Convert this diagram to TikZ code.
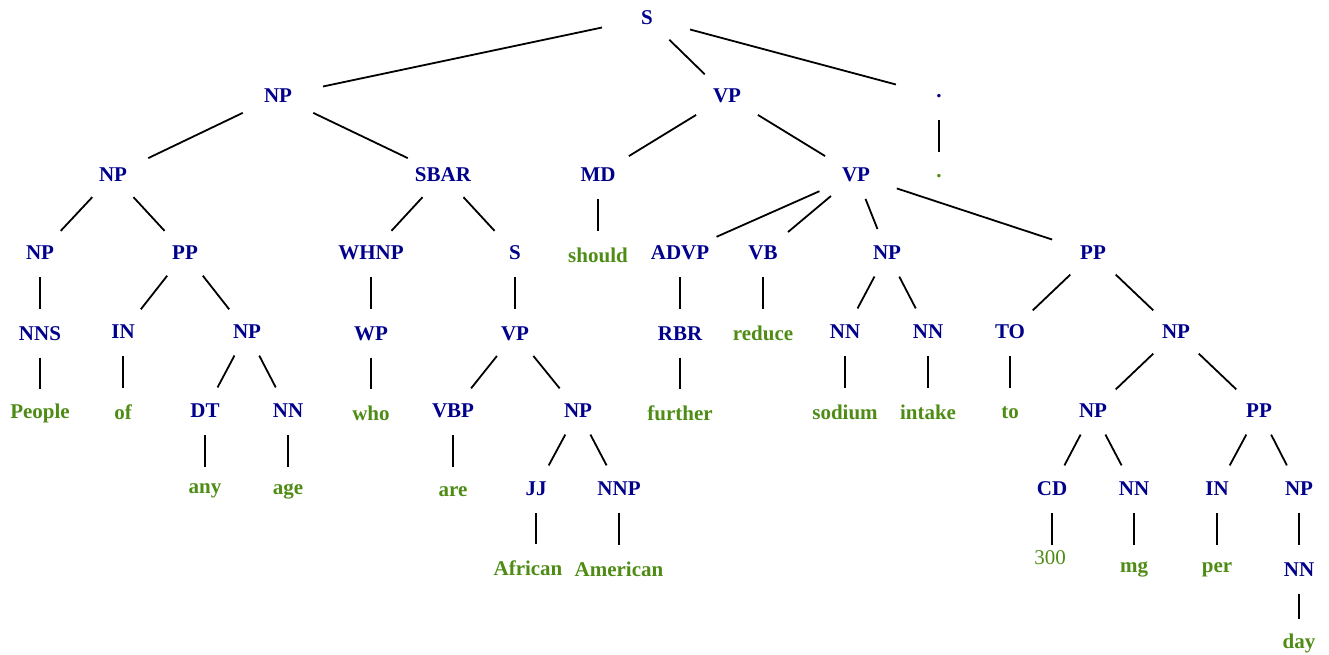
\documentclass[tikz,border=0pt]{standalone}
\usepackage{fontspec}
\setmainfont{Liberation Serif}
\usetikzlibrary{positioning,shapes.geometric}
\definecolor{catblue}{RGB}{0,0,139}
\definecolor{wordgreen}{RGB}{78,140,22}
\tikzset{
  lbl/.style={ellipse, inner sep=0pt, minimum width=96pt, minimum height=47pt,
    font=\fontsize{21}{25}\selectfont\bfseries,
    execute at begin node={\hbox to 0pt\bgroup\hss},
    execute at end node={\hss\egroup}},
  cat/.style={lbl, text=catblue},
  word/.style={lbl, text=wordgreen}
}

\begin{document}
\begin{tikzpicture}[x=1pt, y=-1pt, line width=1.8pt, node distance=31.5pt]
\useasboundingbox (0,0) rectangle (1329,655);
\node[cat] (s) at (647,18) {S};
\node[cat] (np1) at (278,96) {NP};
\node[cat] (vp1) at (727,96) {VP};
\node[cat] (pd) at (939,96) {.};
\node[word, below=of pd] (pw) {.};
\node[cat] (np2) at (113,175) {NP};
\node[cat] (sbar) at (443,175) {SBAR};
\node[cat] (md) at (598,175) {MD};
\node[cat] (vp2) at (856,175) {VP};
\node[word, below=of md] (should) {should};
\node[cat] (np3) at (40,253) {NP};
\node[cat] (pp1) at (185,253) {PP};
\node[cat] (whnp) at (371,253) {WHNP};
\node[cat] (s2) at (515,253) {S};
\node[cat] (advp) at (680,253) {ADVP};
\node[cat] (vb) at (763,253) {VB};
\node[cat] (np4) at (887,253) {NP};
\node[cat] (pp2) at (1093,253) {PP};
\node[cat, below=of np3] (nns) {NNS};
\node[word, below=of nns] (people) {People};
\node[cat] (in1) at (123,332) {IN};
\node[word, below=of in1] (of) {of};
\node[cat] (np5) at (247,332) {NP};
\node[cat, below=of whnp] (wp) {WP};
\node[word, below=of wp] (who) {who};
\node[cat, below=of s2] (vp3) {VP};
\node[cat, below=of advp] (rbr) {RBR};
\node[word, below=of rbr] (further) {further};
\node[word, below=of vb] (reduce) {reduce};
\node[cat] (nn1) at (845,332) {NN};
\node[cat] (nn2) at (928,332) {NN};
\node[word, below=of nn1] (sodium) {sodium};
\node[word, below=of nn2] (intake) {intake};
\node[cat] (to) at (1010,332) {TO};
\node[word, below=of to] (tow) {to};
\node[cat] (np6) at (1176,332) {NP};
\node[cat] (dt) at (205,411) {DT};
\node[cat] (nn3) at (288,411) {NN};
\node[word, below=of dt] (any) {any};
\node[word, below=of nn3] (age) {age};
\node[cat] (vbp) at (453,411) {VBP};
\node[word, below=of vbp] (are) {are};
\node[cat] (np7) at (578,411) {NP};
\node[cat] (np8) at (1093,411) {NP};
\node[cat] (pp3) at (1259,411) {PP};
\node[cat] (jj) at (536,489) {JJ};
\node[cat] (nnp) at (619,489) {NNP};
\node[word] (african) at (528,568) {African};
\node[word, below=of nnp] (american) {American};
\node[cat] (cd) at (1052,489) {CD};
\node[cat] (nn4) at (1134,489) {NN};
\node[cat] (in2) at (1217,489) {IN};
\node[cat] (np9) at (1299,489) {NP};
\node[word] (n300) at (1050,558) {\mdseries 300};
\node[word, below=of nn4] (mg) {mg};
\node[word, below=of in2] (per) {per};
\node[cat, below=of np9] (nn5) {NN};
\node[word] (day) at (1299,643) {day};
\path (s) edge (np1);
\path (s) edge (vp1);
\path (s) edge (pd);
\path (pd) edge (pw);
\path (np1) edge (np2);
\path (np1) edge (sbar);
\path (vp1) edge (md);
\path (vp1) edge (vp2);
\path (md) edge (should);
\path (np2) edge (np3);
\path (np2) edge (pp1);
\path (sbar) edge (whnp);
\path (sbar) edge (s2);
\path (vp2) edge (advp);
\path (vp2) edge (vb);
\path (vp2) edge (np4);
\path (vp2) edge (pp2);
\path (np3) edge (nns);
\path (nns) edge (people);
\path (pp1) edge (in1);
\path (pp1) edge (np5);
\path (in1) edge (of);
\path (np5) edge (dt);
\path (np5) edge (nn3);
\path (dt) edge (any);
\path (nn3) edge (age);
\path (whnp) edge (wp);
\path (wp) edge (who);
\path (s2) edge (vp3);
\path (vp3) edge (vbp);
\path (vp3) edge (np7);
\path (vbp) edge (are);
\path (np7) edge (jj);
\path (np7) edge (nnp);
\path (jj) edge (jj |- african.north);
\path (nnp) edge (american);
\path (advp) edge (rbr);
\path (rbr) edge (further);
\path (vb) edge (reduce);
\path (np4) edge (nn1);
\path (np4) edge (nn2);
\path (nn1) edge (sodium);
\path (nn2) edge (intake);
\path (pp2) edge (to);
\path (pp2) edge (np6);
\path (to) edge (tow);
\path (np6) edge (np8);
\path (np6) edge (pp3);
\path (np8) edge (cd);
\path (np8) edge (nn4);
\path (cd) edge (cd |- mg.north);
\path (nn4) edge (mg);
\path (pp3) edge (in2);
\path (pp3) edge (np9);
\path (in2) edge (per);
\path (np9) edge (nn5);
\path (nn5) edge (day);
\end{tikzpicture}
\end{document}
